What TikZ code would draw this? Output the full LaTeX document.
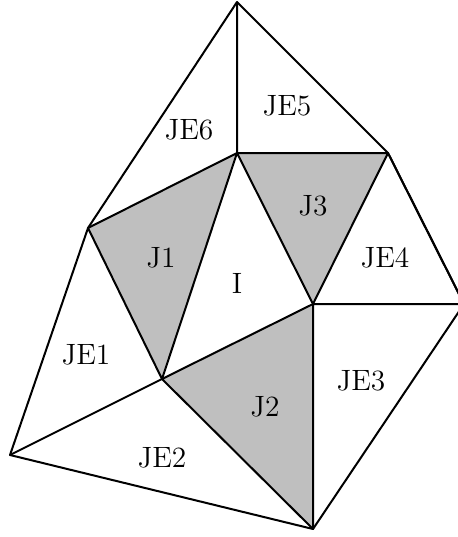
\documentclass[tikz,border=0pt]{standalone}
\begin{document}
\begin{tikzpicture}[x=0.5pt,y=-0.5pt,
  edge/.style={line width=1pt,line join=round},
  shade/.style={fill=black!25},
  lab/.style={font=\fontsize{14.7}{17}\selectfont}]
\useasboundingbox (0,0) rectangle (457,537);
\coordinate (T) at (237,2);
\coordinate (A) at (237,153);
\coordinate (B) at (388,153);
\coordinate (C) at (88,228);
\coordinate (D) at (313,304);
\coordinate (E) at (464,304);
\coordinate (F) at (162,379);
\coordinate (G) at (10,455);
\coordinate (H) at (313,529);
\fill[shade] (A) -- (B) -- (D) -- cycle;
\fill[shade] (C) -- (A) -- (F) -- cycle;
\fill[shade] (F) -- (D) -- (H) -- cycle;
\draw[edge] (T) -- (C) -- (G) -- (H) -- (E) -- (B) -- cycle;
\draw[edge] (T) -- (A) -- (B) -- (D) -- (A) -- (C) -- (F) -- (A);
\draw[edge] (B) -- (E) -- (D) -- (H) -- (F) -- (D);
\draw[edge] (G) -- (F);
\node[lab] (je6) at (189,130) {JE6};
\node[lab] (je5) at (287,106) {JE5};
\node[lab] (j3) at (313,206) {J3};
\node[lab] (je4) at (385,258) {JE4};
\node[lab] (j1) at (161,258) {J1};
\node[lab] (i) at (237,283) {I};
\node[lab] (je1) at (86,355) {JE1};
\node[lab] (j2) at (265,407) {J2};
\node[lab] (je3) at (361,381) {JE3};
\node[lab] (je2) at (162,458) {JE2};
\end{tikzpicture}
\end{document}
